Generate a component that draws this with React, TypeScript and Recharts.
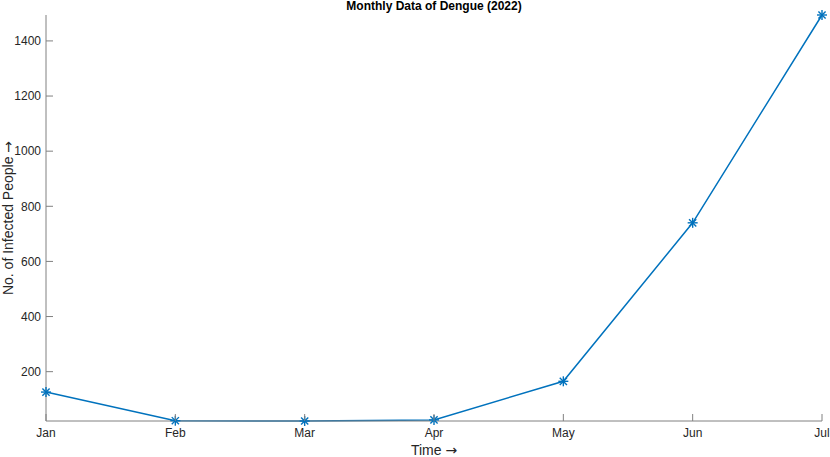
import { LineChart, Line, XAxis, YAxis } from 'recharts';

const months = ['Jan', 'Feb', 'Mar', 'Apr', 'May', 'Jun', 'Jul'];
const infected = [126, 22, 21, 25, 165, 740, 1494];
const yTicks = [200, 400, 600, 800, 1000, 1200, 1400];

const data = months.map((m, i) => ({ month: m, infected: infected[i] }));

const BLUE = '#0072BD';
const AXIS = '#808080';
const TEXT = '#262626';
const FONT = 'Liberation Sans, Arial, Helvetica, sans-serif';
const ARROW_FONT = 'DejaVu Sans, sans-serif';
const TICK_LEN = 7;
const MARGIN_Y = 5;
const MARGIN_X = 7;

const Asterisk = (props: any) => {
  const { cx, cy } = props;
  if (cx == null || cy == null) return null;
  const r = 5;
  const d = r * 0.72;
  return (
    <g stroke={BLUE} strokeWidth={1.4}>
      <line x1={cx - r} y1={cy} x2={cx + r} y2={cy} />
      <line x1={cx} y1={cy - r} x2={cx} y2={cy + r} />
      <line x1={cx - d} y1={cy - d} x2={cx + d} y2={cy + d} />
      <line x1={cx - d} y1={cy + d} x2={cx + d} y2={cy - d} />
    </g>
  );
};

const YTick = (props: any) => {
  const { x, y, payload } = props;
  const axisX = x + MARGIN_Y;
  return (
    <g>
      <line x1={axisX} y1={y} x2={axisX + TICK_LEN} y2={y} stroke={AXIS} strokeWidth={1} />
      <text x={x} y={y} dy="0.355em" textAnchor="end" fontSize={12} fontFamily={FONT} fill={TEXT}>
        {payload.value}
      </text>
    </g>
  );
};

const XTick = (props: any) => {
  const { x, y, payload } = props;
  const axisY = y - MARGIN_X;
  return (
    <g>
      <line x1={x} y1={axisY} x2={x} y2={axisY - TICK_LEN} stroke={AXIS} strokeWidth={1} />
      <text x={x} y={y} dy="0.71em" textAnchor="middle" fontSize={12} fontFamily={FONT} fill={TEXT}>
        {payload.value}
      </text>
    </g>
  );
};

const YLabel = (props: any) => {
  const { viewBox } = props;
  const cx = 8;
  const cy = viewBox.y + viewBox.height / 2;
  return (
    <text
      x={cx}
      y={cy}
      transform={`rotate(-90, ${cx}, ${cy})`}
      textAnchor="middle"
      dominantBaseline="central"
      fontSize={14}
      fontFamily={FONT}
      fill={TEXT}
    >
      No. of Infected People <tspan fontFamily={ARROW_FONT}>→</tspan>
    </text>
  );
};

const XLabel = (props: any) => {
  const { viewBox } = props;
  const cx = viewBox.x + viewBox.width / 2;
  return (
    <text x={cx} y={viewBox.y + viewBox.height - 2} textAnchor="middle" fontSize={14} fontFamily={FONT} fill={TEXT}>
      Time <tspan fontFamily={ARROW_FONT}>→</tspan>
    </text>
  );
};

export default function App() {
  return (
    <div style={{ position: 'absolute', left: 0, top: 0, background: '#fff' }}>
      <LineChart width={830} height={457} data={data} margin={{ top: 15, right: 8, bottom: 0, left: 0 }}>
        <text x={434} y={10} textAnchor="middle" fontSize={12} fontWeight="bold" fontFamily={FONT} fill="#000">
          Monthly Data of Dengue (2022)
        </text>
        <XAxis
          dataKey="month"
          height={36}
          tickSize={0}
          tickMargin={MARGIN_X}
          tick={XTick}
          axisLine={{ stroke: AXIS }}
          interval={0}
          label={<XLabel />}
        />
        <YAxis
          width={46}
          domain={[21, 1494]}
          ticks={yTicks}
          tickSize={0}
          tickMargin={MARGIN_Y}
          tick={YTick}
          axisLine={{ stroke: AXIS }}
          label={<YLabel />}
        />
        <Line
          type="linear"
          dataKey="infected"
          stroke={BLUE}
          strokeWidth={1.5}
          dot={<Asterisk />}
          activeDot={false}
          isAnimationActive={false}
        />
      </LineChart>
    </div>
  );
}
